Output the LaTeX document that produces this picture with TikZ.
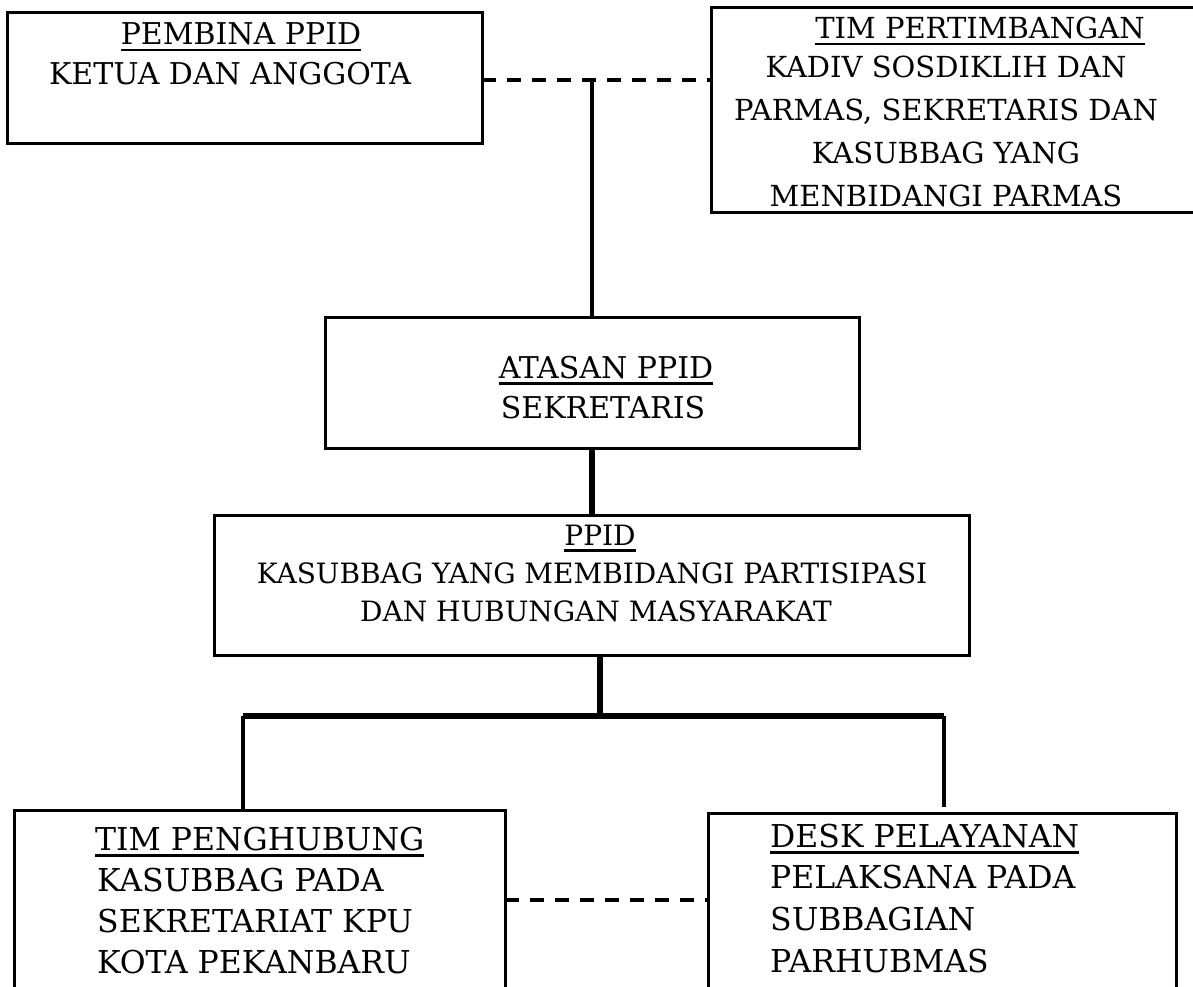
\documentclass[tikz,border=0pt]{standalone}
\usepackage{fontspec}
\setmainfont{DejaVu Serif}
\usetikzlibrary{calc}
\usetikzlibrary{positioning}
\tikzset{
  orgBox/.style={%
    rectangle, draw, line width=3pt, inner sep=0pt, outer sep=0pt,
  },
  lineText/.style={%
    inner sep=0pt, font=\fontsize{#1}{#1}\selectfont,
  },
  lineText/.default=30,
  solidLink/.style={line width=4pt},
  thickLink/.style={line width=5.5pt},
  dashLink/.style={line width=4pt, dash pattern=on 14pt off 11pt},
}
\newcommand{\ulHead}[1]{\setbox0\hbox{#1}\rlap{\rule[-6.5pt]{\wd0}{2.5pt}}\box0}

\begin{document}
\begin{tikzpicture}[x=1pt, y=-1pt]
        \useasboundingbox (0,0) rectangle (1193,987);
        % boxes
        \node[orgBox, minimum width=475pt, minimum height=131pt] (pembina) at (244.5,78.5) {};
        \node[orgBox, minimum width=499pt, minimum height=204pt] (tim) at (960.5,110) {};
        \node[orgBox, minimum width=534pt, minimum height=131pt] (atasan) at (592,382.5) {};
        \node[orgBox, minimum width=755pt, minimum height=140pt] (ppid) at (592,585) {};
        \node[orgBox, minimum width=491pt, minimum height=200pt] (penghubung) at (259.5,910) {};
        \node[orgBox, minimum width=468pt, minimum height=197pt] (desk) at (942,911.5) {};
        % texts
        \node[lineText, anchor=base] (pembinaHead) at (241,45) {\ulHead{PEMBINA PPID}};
        \node[lineText, anchor=base] (pembinaText) at (230,85) {KETUA DAN ANGGOTA};
        \node[lineText=29, anchor=base] (timHead) at (980,39) {\ulHead{TIM PERTIMBANGAN}};
        \foreach \txt [count=\i] in {KADIV SOSDIKLIH DAN, {PARMAS, SEKRETARIS DAN}, KASUBBAG YANG, MENBIDANGI PARMAS}
        {
          \node[lineText=29, anchor=base] (timText\i) at (946,{35+43*\i}) {\txt};
        }
        \node[lineText, anchor=base] (atasanHead) at (606,378) {\ulHead{ATASAN PPID}};
        \node[lineText, anchor=base] (atasanText) at (603,418) {SEKRETARIS};
        \node[lineText=28, anchor=base] (ppidHead) at (600,545) {\ulHead{PPID}};
        \node[lineText=28, anchor=base] (ppidText1) at (592,583) {KASUBBAG YANG MEMBIDANGI PARTISIPASI};
        \node[lineText=28, anchor=base] (ppidText2) at (596,621) {DAN HUBUNGAN MASYARAKAT};
        \node[lineText=31.5, anchor=base west] (penghubungHead) at (95,850) {\ulHead{TIM PENGHUBUNG}};
        \foreach \txt [count=\i] in {KASUBBAG PADA, SEKRETARIAT KPU, KOTA PEKANBARU}
        {
          \node[lineText=31.5, anchor=base west] (penghubungText\i) at (97,{850+41*\i}) {\txt};
        }
        \node[lineText=31.5, anchor=base west] (deskHead) at (770,847) {\ulHead{DESK PELAYANAN}};
        \foreach \txt [count=\i] in {PELAKSANA PADA, SUBBAGIAN, PARHUBMAS}
        {
          \node[lineText=31.5, anchor=base west] (deskText\i) at (770,{847+41.7*\i}) {\txt};
        }
        % connectors
        \coordinate (split) at (600,716);
        \coordinate (leftDrop) at (243,716);
        \coordinate (rightDrop) at (944,716);
        \draw[dashLink] ([yshift=-1.5pt]pembina.east) -- ([yshift=-1.5pt]pembina.east -| tim.west);
        \draw[solidLink] (atasan.north) -- (atasan.north |- pembina.east);
        \draw[thickLink] (atasan.south) -- (ppid.north);
        \draw[thickLink] (ppid.south -| split) -- (split);
        \draw[thickLink] (leftDrop) -- (rightDrop);
        \draw[solidLink] (leftDrop) -- (leftDrop |- penghubung.north);
        \draw[solidLink] (rightDrop) -- ([yshift=6pt]rightDrop |- desk.north);
        \draw[dashLink] ([yshift=10pt]penghubung.east) -- ([yshift=10pt]penghubung.east -| desk.west);
      \end{tikzpicture}
\end{document}
